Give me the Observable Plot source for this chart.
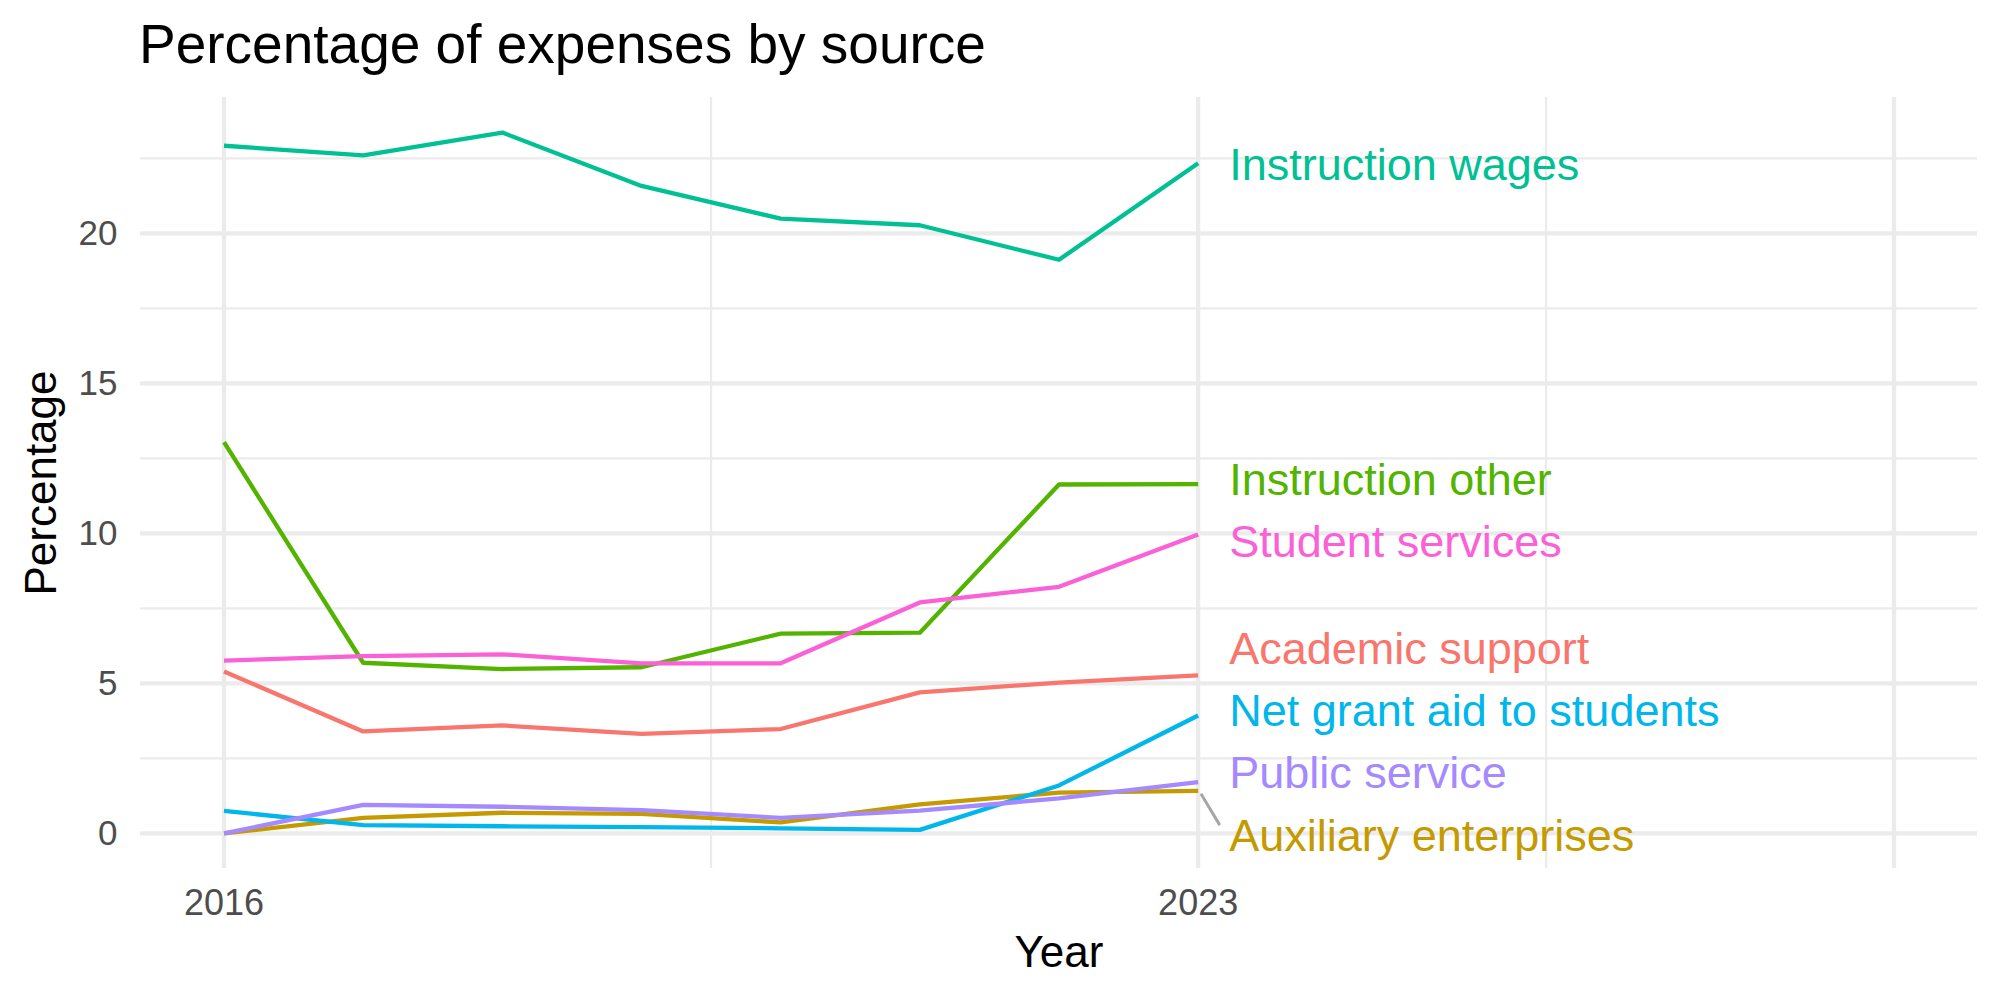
<!DOCTYPE html>
<html>
<head>
<meta charset="utf-8">
<script src="https://cdn.jsdelivr.net/npm/d3@7"></script>
<script src="https://cdn.jsdelivr.net/npm/@observablehq/plot@0.6"></script>
<style>
  body { margin: 0; background: #ffffff; font-family: "Liberation Sans", Arial, Helvetica, sans-serif; }
  #title { height: 80px; box-sizing: border-box; padding-top: 17px; padding-left: 139px; font-size: 55px; line-height: 55px; color: #000; white-space: nowrap; }
</style>
</head>
<body>
<div id="title">Percentage of expenses by source</div>
<div id="chart"></div>
<script>
// ---- data ----
const years = [2016, 2017, 2018, 2019, 2020, 2021, 2022, 2023];
const seriesNames = ["Academic support", "Auxiliary enterprises", "Instruction other", "Instruction wages", "Net grant aid to students", "Public service", "Student services"];
const academicSupport      = [5.40, 3.40, 3.60, 3.32, 3.48, 4.70, 5.03, 5.27];
const auxiliaryEnterprises = [0.00, 0.52, 0.69, 0.65, 0.37, 0.97, 1.36, 1.42];
const instructionOther     = [13.04, 5.69, 5.48, 5.54, 6.66, 6.69, 11.63, 11.64];
const instructionWages     = [22.92, 22.60, 23.36, 21.58, 20.49, 20.27, 19.12, 22.34];
const netGrantAid          = [0.75, 0.28, 0.24, 0.21, 0.17, 0.12, 1.60, 3.93];
const publicService        = [0.00, 0.95, 0.89, 0.78, 0.52, 0.76, 1.17, 1.71];
const studentServices      = [5.76, 5.91, 5.97, 5.67, 5.67, 7.70, 8.22, 9.96];
const seriesColors = ["#F8766D", "#C49A00", "#53B400", "#00C094", "#00B6EB", "#A58AFF", "#FB61D7"];
const xTickLabels = [2016, 2023];
const xGridBreaks = [2016, 2023, 2028];
const xLimits = [2016, 2028];
const yTickLabels = [0, 5, 10, 15, 20];

// ---- build tables ----
const seriesValues = [academicSupport, auxiliaryEnterprises, instructionOther, instructionWages, netGrantAid, publicService, studentServices];
const rows = seriesNames.flatMap((s, i) => years.map((y, j) => ({series: s, year: y, value: seriesValues[i][j]})));

const allValues = rows.map(d => d.value);
const [ymin, ymax] = d3.extent(allValues);
const yPad = (ymax - ymin) * 0.05;
const yDomain = [ymin - yPad, ymax + yPad];
const xPad = (xLimits[1] - xLimits[0]) * 0.05;
const xDomain = [xLimits[0] - xPad, xLimits[1] + xPad];

// minor grid (midpoints between breaks, extended)
const xMinor = d3.pairs(xGridBreaks).map(([a, b]) => (a + b) / 2);
const yStep = yTickLabels[1] - yTickLabels[0];
const yMinor = d3.range(yTickLabels[0] - yStep / 2, yDomain[1], yStep).filter(v => v > yDomain[0]);

// ---- simple label repel (vertical) ----
const lastYear = years[years.length - 1];
const gap = 2.07;
let items = seriesNames.map((s, i) => ({series: s, value: seriesValues[i][years.length - 1]}))
  .sort((a, b) => b.value - a.value);
let clusters = items.map(it => ({members: [it]}));
function place(c) {
  const m = d3.mean(c.members, d => d.value);
  const n = c.members.length;
  c.members.forEach((d, k) => d.labelY = m + ((n - 1) / 2 - k) * gap);
}
clusters.forEach(place);
let merged = true;
while (merged) {
  merged = false;
  for (let i = 0; i < clusters.length - 1; i++) {
    const a = clusters[i], b = clusters[i + 1];
    const aLow = a.members[a.members.length - 1].labelY;
    const bHigh = b.members[0].labelY;
    if (aLow - bHigh < gap) {
      const c = {members: a.members.concat(b.members)};
      place(c);
      clusters.splice(i, 2, c);
      merged = true;
      break;
    }
  }
}
const labels = items.map(d => ({...d, x: lastYear}));
const segments = labels.filter(d => Math.abs(d.labelY - d.value) > 1.2)
  .map(d => ({x1: lastYear + 0.02, y1: d.value - 0.1, x2: lastYear + 0.155, y2: d.labelY + 0.3}));

const grid = "#EBEBEB";
const chart = Plot.plot({
  width: 2000,
  height: 920,
  marginLeft: 140,
  marginRight: 23,
  marginTop: 17,
  marginBottom: 132,
  x: {domain: xDomain},
  y: {domain: yDomain},
  color: {domain: seriesNames, range: seriesColors},
  style: {fontFamily: "'Liberation Sans', Arial, Helvetica, sans-serif", background: "#ffffff", overflow: "visible"},
  marks: [
    Plot.ruleY(yMinor, {stroke: grid, strokeWidth: 2.2}),
    Plot.ruleX(xMinor, {stroke: grid, strokeWidth: 2.2}),
    Plot.ruleY(yTickLabels, {stroke: grid, strokeWidth: 4.3}),
    Plot.ruleX(xGridBreaks, {stroke: grid, strokeWidth: 4.3}),
    Plot.axisY({ticks: yTickLabels, tickSize: 0, tickPadding: 23, fontSize: 35, color: "#4D4D4D", label: null}),
    Plot.axisX({ticks: xTickLabels, tickSize: 0, tickPadding: 21, fontSize: 36, color: "#4D4D4D", label: null, tickFormat: d => String(d)}),
    Plot.line(rows, {x: "year", y: "value", z: "series", stroke: "series", strokeWidth: 4.3, strokeLinejoin: "round", strokeLinecap: "butt"}),
    Plot.link(segments, {x1: "x1", y1: "y1", x2: "x2", y2: "y2", stroke: "#A6A6A6", strokeWidth: 3}),
    Plot.text(labels, {x: "x", y: "labelY", text: "series", fill: "series", dx: 31, dy: 2, textAnchor: "start", lineAnchor: "middle", fontSize: 45}),
    Plot.text(["Year"], {text: d => d, frameAnchor: "bottom", textAnchor: "middle", lineAnchor: "middle", dy: 84, fontSize: 44, fill: "#000"}),
    Plot.text(["Percentage"], {text: d => d, frameAnchor: "left", textAnchor: "middle", lineAnchor: "middle", dx: -99, rotate: -90, fontSize: 44, fill: "#000"})
  ]
});
document.getElementById("chart").appendChild(chart);
</script>
</body>
</html>
